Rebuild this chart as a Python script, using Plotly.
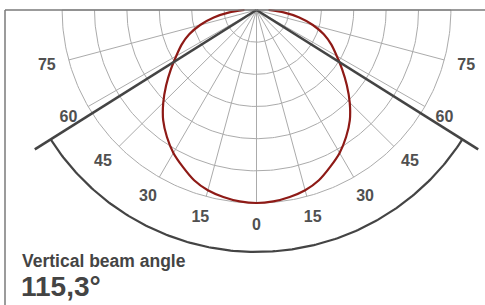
import numpy as np
import plotly.graph_objects as go

# Luminous intensity distribution (relative units, grid circle = 1 unit)
# angle measured from the downward vertical, positive to the right
angles = [-90, -85, -80, -75, -70, -65, -60, -55, -50, -45, -40, -35, -30, -25, -20, -15, -10, -5,
          0, 5, 10, 15, 20, 25, 30, 35, 40, 45, 50, 55, 60, 65, 70, 75, 80, 85, 90]
intensity = [0.37, 0.84, 1.34, 1.80, 2.21, 2.55, 2.86, 3.23, 3.64, 4.07, 4.48, 4.82, 5.13, 5.38, 5.63, 5.80, 5.90, 5.97,
             6.00, 5.97, 5.90, 5.80, 5.63, 5.38, 5.13, 4.82, 4.48, 4.07, 3.64, 3.23, 2.86, 2.55, 2.21, 1.80, 1.34, 0.84, 0.37]

beam_angle = 115.3
label_angles = [-75, -60, -45, -30, -15, 0, 15, 30, 45, 60, 75]
label_texts = ["<b>%d</b>" % abs(a) for a in label_angles]
spoke_angles = list(range(-90, 91, 15))
ring_values = [1, 2, 3, 4, 5, 6]

R_MAX = 6.0
LABEL_R = 6.7
BEAM_LINE_R = 8.1
ARC_R = 7.52

FONT = "Liberation Sans, Arial, sans-serif"


def to_xy(r, theta_deg):
    t = np.radians(np.asarray(theta_deg, dtype=float))
    r = np.asarray(r, dtype=float)
    return r * np.sin(t), -r * np.cos(t)


fig = go.Figure()
GRID = dict(color="#ababab", width=1)

# grid rings
ring_theta = np.linspace(-90, 90, 181)
for rv in ring_values:
    x, y = to_xy([rv] * len(ring_theta), ring_theta)
    fig.add_trace(go.Scatter(x=x, y=y, mode="lines", line=GRID, hoverinfo="skip"))

# grid spokes
for a in spoke_angles:
    x, y = to_xy([0, R_MAX], [a, a])
    fig.add_trace(go.Scatter(x=x, y=y, mode="lines", line=GRID, hoverinfo="skip"))

# intensity curve
x, y = to_xy(intensity, angles)
fig.add_trace(go.Scatter(x=x, y=y, mode="lines", line=dict(color="#8e1a16", width=2.2),
                         line_shape="spline", line_smoothing=0.5, hoverinfo="skip"))

# beam angle lines
half = beam_angle / 2
for s in (-1, 1):
    x, y = to_xy([0, BEAM_LINE_R], [s * half, s * half])
    fig.add_trace(go.Scatter(x=x, y=y, mode="lines", line=dict(color="#444444", width=2.6),
                             hoverinfo="skip"))

# beam arc
arc_theta = np.linspace(-half, half, 200)
x, y = to_xy([ARC_R] * len(arc_theta), arc_theta)
fig.add_trace(go.Scatter(x=x, y=y, mode="lines", line=dict(color="#444444", width=2.2),
                         hoverinfo="skip"))

# angle labels
x, y = to_xy([LABEL_R] * len(label_angles), label_angles)
fig.add_trace(go.Scatter(x=x, y=y, mode="text", text=label_texts, textposition="middle center",
                         textfont=dict(family=FONT, size=16, color="#505050"),
                         hoverinfo="skip"))

# pixel scale: ~32.4 px per unit horizontally, ~32.17 px vertically; centre at (256.5, 10) px
SX, SY = 32.4, 32.17
CX, CY = 256.5, 10
W, H = 485, 305

fig.update_layout(
    width=W, height=H,
    margin=dict(l=0, r=0, t=0, b=0),
    paper_bgcolor="white", plot_bgcolor="white",
    showlegend=False,
    hovermode=False,
    xaxis=dict(range=[-CX / SX, (W - CX) / SX], visible=False, fixedrange=True),
    yaxis=dict(range=[-(H - CY) / SY, CY / SY], visible=False, fixedrange=True),
    font=dict(family=FONT),
)

# frame of the card
fig.add_shape(type="line", xref="paper", yref="paper", x0=5 / W, x1=1, y0=1 - 10 / H, y1=1 - 10 / H,
              line=dict(color="#7a7a7a", width=1.5))
fig.add_shape(type="line", xref="paper", yref="paper", x0=5 / W, x1=5 / W, y0=0, y1=1 - 10 / H,
              line=dict(color="#7a7a7a", width=1.5))

fig.add_annotation(text="<b>Vertical beam angle</b>", xref="paper", yref="paper",
                   x=20 / W, y=1 - 261 / H, xanchor="left", yanchor="middle", showarrow=False,
                   font=dict(size=17.5, color="#444444", family=FONT))
fig.add_annotation(text=f"<b>{beam_angle:.1f}°</b>".replace(".", ","), xref="paper", yref="paper",
                   x=19 / W, y=1 - 286 / H, xanchor="left", yanchor="middle", showarrow=False,
                   font=dict(size=28, color="#444444", family=FONT))

fig.write_html("out.html", config={"displayModeBar": False},
               post_script="document.body.style.margin='0px';")
